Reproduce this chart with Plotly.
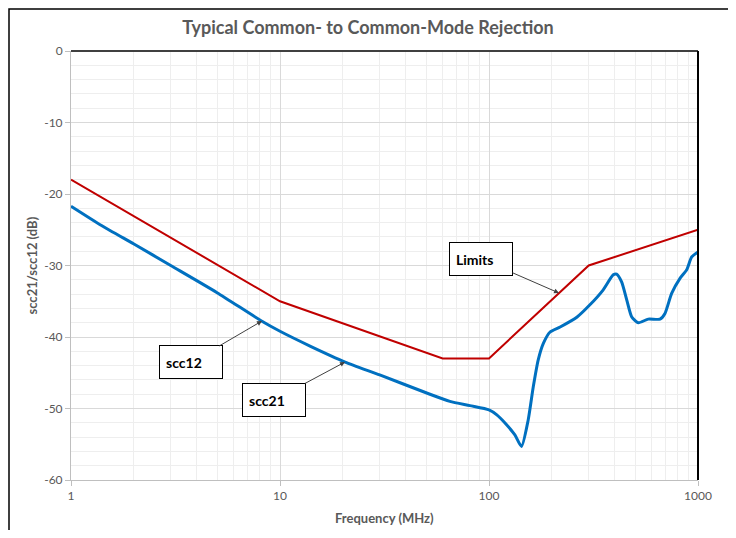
import math
import plotly.graph_objects as go

# Limits (red)
lim_freq = [1, 10, 60, 100, 300, 1000]
lim_db = [-18, -35, -43, -43, -30, -25]

# scc21/scc12 measured (blue)
scc_freq = [1, 1.4, 2, 3, 5, 8.2, 10, 14, 20.5, 30, 50, 65, 81, 100, 109, 119, 133, 143,
            154, 163, 172, 182, 196, 219, 264, 304, 352, 393, 408, 431, 456, 482, 518,
            578, 658, 695, 748, 820, 883, 933, 1000]
scc_db = [-21.7, -24.4, -27.0, -30.0, -33.8, -37.8, -39.2, -41.3, -43.5, -45.3, -47.8, -49.0, -49.6, -50.2, -50.9, -52.0, -53.7, -55.3,
          -51.6, -46.9, -43.2, -40.9, -39.3, -38.6, -37.2, -35.5, -33.4, -31.3, -31.2, -32.3, -34.8, -37.2, -38.0,
          -37.5, -37.5, -36.7, -33.9, -31.8, -30.6, -28.8, -28.1]

y_ticks = [0, -10, -20, -30, -40, -50, -60]
y_labels = ["0", "-10", "-20", "-30", "-40", "-50", "-60"]
x_ticks = [1, 10, 100, 1000]
x_labels = ["1", "10", "100", "1000"]
x_minor = [m * d for d in (1, 10, 100) for m in range(2, 10)]

FONT = "Lato"
GRAY = "#595959"

W, H = 720, 522  # page adds an 8px body margin
ML, MR, MT, MB = 63, 30, 43, 50

fig = go.Figure()
fig.add_trace(go.Scatter(x=lim_freq, y=lim_db, mode="lines", line=dict(color="#c00000", width=2),
                         name="Limits", showlegend=False))
fig.add_trace(go.Scatter(x=scc_freq, y=scc_db, mode="lines",
                         line=dict(color="#0070c0", width=3, shape="spline", smoothing=0.6),
                         name="scc", showlegend=False))

fig.update_layout(
    width=W, height=H,
    margin=dict(l=ML, r=MR, t=MT, b=MB, autoexpand=False),
    paper_bgcolor="white", plot_bgcolor="white",
    font=dict(family=FONT, color=GRAY),
    title=dict(text="<b>Typical Common- to Common-Mode Rejection</b>", x=0.5, xanchor="center",
               y=1 - 20 / H, yanchor="middle", font=dict(size=18, color=GRAY, family=FONT)),
    xaxis=dict(type="log", range=[0, 3], tickvals=x_ticks, ticktext=x_labels, automargin=False,
               showgrid=True, gridcolor="#d9d9d9", gridwidth=1,
               minor=dict(tickvals=x_minor, showgrid=True, gridcolor="#eeeeee", ticks=""),
               showline=True, linecolor="#bfbfbf", linewidth=1, ticks="outside", ticklen=5, tickcolor="#bfbfbf",
               tickfont=dict(size=12, color=GRAY), zeroline=False),
    yaxis=dict(range=[-60, 0], tickvals=y_ticks, ticktext=y_labels, automargin=False,
               showgrid=True, gridcolor="#d9d9d9", gridwidth=1,
               minor=dict(dtick=2, showgrid=True, gridcolor="#eeeeee", ticks=""),
               showline=True, linecolor="#bfbfbf", linewidth=1, ticks="outside", ticklen=5, tickcolor="#bfbfbf",
               tickfont=dict(size=12, color=GRAY), zeroline=False),
)

# axis titles
fig.add_annotation(text="<b>Frequency (MHz)</b>", xref="paper", yref="paper", x=0.5, y=0,
                   xanchor="center", yanchor="middle", yshift=-38, showarrow=False,
                   font=dict(size=13, color=GRAY, family=FONT))
fig.add_annotation(text="<b>scc21/scc12 (dB)</b>", xref="paper", yref="paper", x=0, y=0.5,
                   xanchor="center", yanchor="middle", xshift=-40, textangle=-90, showarrow=False,
                   font=dict(size=13, color=GRAY, family=FONT))

# plot-area frame: top and right darker lines
fig.add_shape(type="line", xref="paper", yref="paper", x0=0, x1=1, y0=1, y1=1, line=dict(color="#404040", width=2))
fig.add_shape(type="line", xref="paper", yref="paper", x0=1, x1=1, y0=0, y1=1, line=dict(color="#000000", width=2))

# outer frame (left, top, right edges)
pw, ph = W - ML - MR, H - MT - MB
fx0 = (1 - ML) / pw
fx1 = (723 - ML) / pw
fy1 = (H - MB - 1) / ph
fig.add_shape(type="path", xref="paper", yref="paper",
              path=f"M {fx0} -0.3 L {fx0} {fy1} L {fx1} {fy1} L {fx1} -0.3",
              line=dict(color="#000000", width=1.5))


def box(text, x, y, ax, ay):
    fig.add_annotation(x=x, y=y, xref="x", yref="y", text="<b>" + text + "</b>", showarrow=True,
                       ax=ax, ay=ay, axref="pixel", ayref="pixel", arrowhead=2, arrowsize=1, arrowwidth=1,
                       arrowcolor="#404040", bordercolor="#000000", borderwidth=1, bgcolor="white",
                       width=50, height=20, align="left", borderpad=6,
                       font=dict(size=14, color="#000000", family=FONT))


box("scc12", math.log10(8.2), -37.76, -71, 41.5)
box("scc21", math.log10(20.47), -43.5, -71, 38)
box("Limits", math.log10(216.3), -33.85, -78, -34)

fig.write_html("out.html")
